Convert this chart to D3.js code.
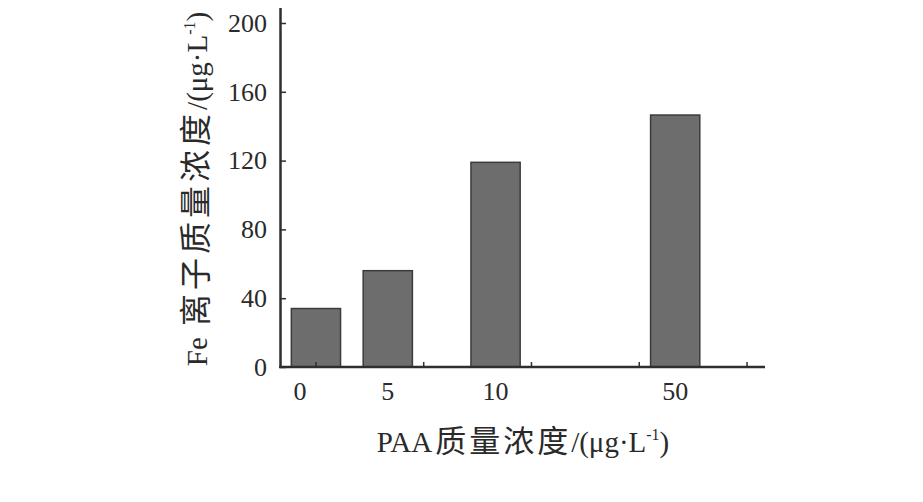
<!DOCTYPE html>
<html><head><meta charset="utf-8">
<script src="https://cdn.jsdelivr.net/npm/d3@7"></script>
<style>
html,body{margin:0;padding:0;background:#fff;}
svg{display:block;}
</style></head>
<body>
<script>
// ---- data ----
const categories = ["0", "5", "10", "50"];
const values = [34, 56, 119, 146.5];
const yTicks = [0, 40, 80, 120, 160, 200];
const xTitle = ["PAA", "质量浓度", "/(μg·L", "-1", ")"];
const yTitle = ["Fe ", "离子质量浓度", "/(μg·L", "-1", ")"];

// ---- layout ----
const W = 923, H = 502;
const slots = [1, 3, 6, 11];          // horizontal slot of each category
const minorSlots = [1, 4, 7, 10, 13]; // small tick marks on x axis
const labelShift = [-16, 0, 0, 0];
const serif = "'Liberation Serif','Times New Roman',serif";
const cjk = "'Noto Sans CJK SC',sans-serif";

const svg = d3.select("body").append("svg").attr("width", W).attr("height", H);
svg.append("rect").attr("width", W).attr("height", H).attr("fill", "#fff");

const x = d3.scaleLinear().domain([0, 13.5]).range([280, 765]);
const y = d3.scaleLinear().domain([0, 209]).range([367, 367 - 209 * 1.72]);
const barW = x(1.37) - x(0);

// bars
svg.append("g").selectAll("rect").data(values).join("rect")
  .attr("x", (d, i) => x(slots[i]) - barW / 2)
  .attr("y", d => y(d))
  .attr("width", barW)
  .attr("height", d => y(0) - y(d))
  .attr("fill", "#6d6d6d")
  .attr("stroke", "#3c3c3c")
  .attr("stroke-width", 1.5);

// y axis
const yAxis = d3.axisLeft(y).tickValues(yTicks).tickSizeInner(-6).tickSizeOuter(0).tickPadding(13);
const gy = svg.append("g").attr("transform", "translate(280,0)").call(yAxis);
gy.select(".domain").attr("stroke", "#2e2e2e").attr("stroke-width", 2.5);
gy.selectAll(".tick line").attr("stroke", "#2e2e2e").attr("stroke-width", 1.5);
gy.selectAll(".tick text").attr("font-family", serif).attr("font-size", 26).attr("fill", "#2a2a2a");

// x axis line + minor ticks
const gx = svg.append("g").attr("transform", `translate(0,${y(0)})`);
gx.append("line").attr("x1", x(0) - 1).attr("x2", x(13.5)).attr("stroke", "#2e2e2e").attr("stroke-width", 2.5);
gx.selectAll("line.minor").data(minorSlots).join("line").attr("class", "minor")
  .attr("x1", d => x(d)).attr("x2", d => x(d)).attr("y1", 0).attr("y2", -5)
  .attr("stroke", "#2e2e2e").attr("stroke-width", 1.5);
gx.selectAll("text").data(categories).join("text")
  .attr("x", (d, i) => x(slots[i]) + labelShift[i])
  .attr("y", 33)
  .attr("text-anchor", "middle")
  .attr("font-family", serif).attr("font-size", 26).attr("fill", "#2a2a2a")
  .text(d => d);

// axis titles
function title(parts, tx, ty, rot, fs, cfs, ls) {
  const t = svg.append("text")
    .attr("transform", `translate(${tx},${ty}) rotate(${rot})`)
    .attr("text-anchor", "middle").attr("fill", "#2a2a2a")
    .attr("font-family", serif).attr("font-size", fs);
  parts.forEach((p, i) => {
    const s = t.append("tspan").text(p);
    if (/[\u4e00-\u9fff]/.test(p)) s.attr("font-family", cjk).attr("font-size", cfs).attr("letter-spacing", ls).attr("dx", ls);
    if (p === "-1") s.attr("font-size", fs * 0.55).attr("dy", -fs * 0.4);
    if (p === ")") s.attr("dy", fs * 0.4);
  });
}
title(xTitle, 523, 452, 0, 29, 31, 3);
title(yTitle, 207, 189, -90, 29, 32, 4);
</script>
</body></html>
